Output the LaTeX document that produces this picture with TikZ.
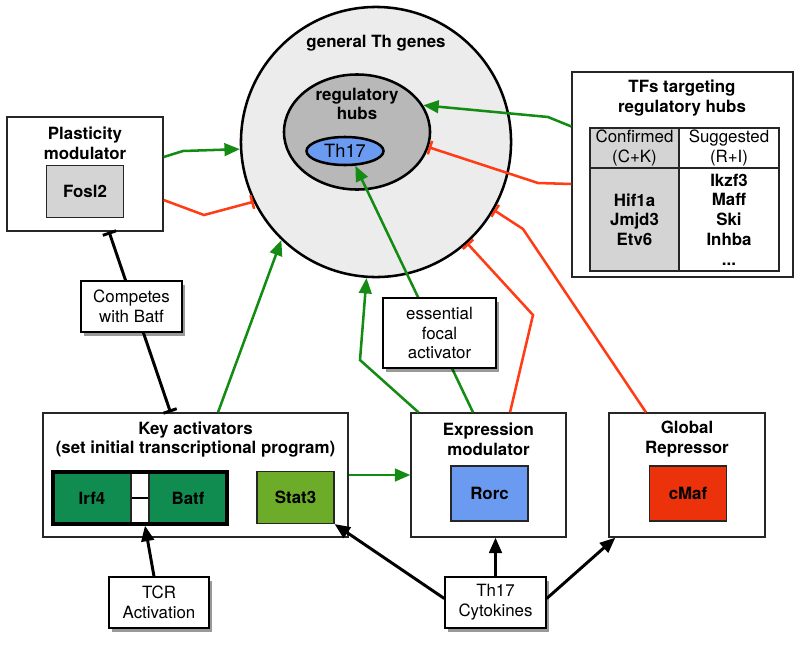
\documentclass[tikz,border=0pt]{standalone}
\usepackage{fontspec}
\setmainfont{TeX Gyre Heros}
\usepackage{tikz}
\usetikzlibrary{shapes.geometric,arrows.meta,calc,shadows}

\definecolor{actgreen}{RGB}{20,140,20}
\definecolor{repred}{RGB}{255,60,20}
\definecolor{genfill}{RGB}{236,236,236}
\definecolor{hubfill}{RGB}{184,184,184}
\definecolor{thblue}{RGB}{106,155,240}
\definecolor{boxgray}{RGB}{212,212,212}
\definecolor{irfgreen}{RGB}{16,140,80}
\definecolor{statgreen}{RGB}{108,172,40}
\definecolor{mafred}{RGB}{235,50,10}

\tikzset{
	panel/.style={draw=black!85, line width=0.9pt, fill=white, minimum height=3.1cm},
	gene/.style={draw=black!85, line width=0.8pt, minimum width=1.925cm, minimum height=1.3cm, font=\bfseries},
	cell/.style={draw=black!85, line width=1pt, align=center, inner sep=0.5pt},
	note/.style={draw, line width=1pt, fill=white, align=center, minimum height=1.275cm,
		drop shadow={shadow xshift=2pt, shadow yshift=-3pt, fill=black, opacity=0.4}},
	title/.style={align=center, font=\bfseries},
	act/.style={draw=actgreen, line width=1.8pt, -{Triangle[length=11pt,width=9pt]}},
	rep/.style={draw=repred, line width=1.8pt, -{Bar[width=10pt]}},
	block/.style={draw=black, line width=2.1pt, {Bar[width=10pt]}-{Bar[width=10pt]}},
	push/.style={draw=black, line width=2.1pt, -{Triangle[length=11pt,width=9pt]}}
}

\begin{document}
\fontsize{12}{14}\selectfont
\begin{tikzpicture}[x=0.025cm, y=-0.025cm]
	\useasboundingbox (0,0) rectangle (800,652);
	% Paths, nodes and wires:
	\node[circle, draw, line width=1.8pt, fill=genfill, minimum size=6.75cm, inner sep=0pt] (gen) at (376,142) {};
	\node[title] (genlbl) at (376,43) {general Th genes};
	\node[ellipse, draw, line width=1.8pt, fill=hubfill, minimum width=3.65cm, minimum height=2.875cm, inner sep=0pt] (hubs) at (357,132) {};
	\node[title] (hubslbl) at (357,104) {regulatory\\hubs};
	\node[ellipse, draw, line width=1.8pt, fill=thblue, minimum width=1.925cm, minimum height=0.7cm, inner sep=0pt, font=\fontsize{13}{15}\selectfont] (th) at (345,151) {Th17};
	\node[panel, minimum width=3.9cm, minimum height=2.85cm] (plast) at (85,174) {};
	\node[title] (plastlbl) at (85,143) {Plasticity\\modulator};
	\node[gene, fill=boxgray] (fosl) at (85,191.5) {Fosl2};
	\node[panel, minimum width=5.525cm, minimum height=5.125cm] (tfs) at (682.5,174.5) {};
	\node[title] (tfslbl) at (682,98) {TFs targeting\\regulatory hubs};
	\node[cell, fill=boxgray, minimum width=2.225cm, minimum height=1cm] (conf) at (634.5,148) {Confirmed\\(C+K)};
	\node[cell, minimum width=2.5cm, minimum height=1cm] (sugg) at (729,148) {Suggested\\(R+I)};
	\node[cell, fill=boxgray, minimum width=2.225cm, minimum height=2.575cm, font=\bfseries] (confl) at (634.5,219.5) {Hif1a\\Jmjd3\\Etv6};
	\node[cell, minimum width=2.5cm, minimum height=2.575cm, font=\bfseries] (suggl) at (729,219.5) {Ikzf3\\Maff\\Ski\\Inhba\\...};
	\node[panel, minimum width=7.625cm] (key) at (195.5,475) {};
	\node[title] (keylbl) at (195.5,439.5) {Key activators\\(set initial transcriptional program)};
	\node[gene, fill=irfgreen, minimum width=1.95cm] (irf) at (92,498) {Irf4};
	\node[gene, fill=irfgreen, minimum width=1.95cm] (batf) at (188,498) {Batf};
	\node[draw, line width=2.4pt, minimum width=4.35cm, minimum height=1.3cm, inner sep=0pt] (pair) at (140,498) {};
	\draw[line width=1.8pt] (irf.east) -- (batf.west);
	\node[gene, fill=statgreen] (stat) at (295.5,497.5) {Stat3};
	\node[panel, minimum width=3.875cm] (expr) at (488.5,475) {};
	\node[title] (exprlbl) at (488.5,439) {Expression\\modulator};
	\node[gene, fill=thblue, minimum height=1.375cm] (rorc) at (489.5,493.5) {Rorc};
	\node[panel, minimum width=3.9cm] (glob) at (687,475) {};
	\node[title] (globlbl) at (687,439) {Global\\Repressor};
	\node[gene, fill=mafred, minimum height=1.375cm] (cmaf) at (688,493.5) {cMaf};
	\node[note, minimum width=2.5cm] (tcr) at (159,602.5) {TCR\\Activation};
	\node[note, minimum width=2.525cm] (cyto) at (495.5,602.5) {Th17\\Cytokines};
	\draw[act] ($(plast.east)+(0,-17)$) -- (183,151) -- (gen.183);
	\draw[rep] ($(plast.east)+(0,26)$) -- (204,215) -- (gen.206);
	\draw[act] ($(tfs.west)+(0,-48)$) -- (548,117) -- (hubs.22);
	\draw[rep] ($(tfs.west)+(0,9.5)$) -- (538,183) -- (hubs.-12);
	\draw[act] ($(key.north)+(22.5,0)$) -- (gen.226);
	\draw[act] (key.east) -- (expr.west);
	\draw[act] ($(expr.north)+(-70,0)$) -- (360,360) -- (gen.266);
	\draw[act] ($(expr.north)+(-15.5,0)$) -- (th.-55);
	\draw[rep] ($(expr.north)+(21.5,0)$) -- (533,315) -- (gen.-48);
	\draw[rep] ($(glob.north)+(-41,0)$) -- (523,229) -- (gen.-30);
	\draw[block] ($(plast.south)+(24,0)$) -- ($(key.north)+(-25,0)$);
	\draw[push] ($(tcr.north)+(-5,0)$) -- ($(pair.south)+(5,0)$);
	\draw[push] ($(cyto.west)+(0,-4)$) -- (stat.south east);
	\draw[push] (cyto.north) -- (cyto.north |- expr.south);
	\draw[push] ($(cyto.east)+(0,-4)$) -- ($(glob.south west)+(7,0)$);
	\node[note, minimum width=2.525cm] (comp) at (131.5,306.5) {Competes\\with Batf};
	\node[note, minimum width=2.825cm, minimum height=1.75cm] (ess) at (439.5,333) {essential\\focal\\activator};
\end{tikzpicture}
\end{document}
